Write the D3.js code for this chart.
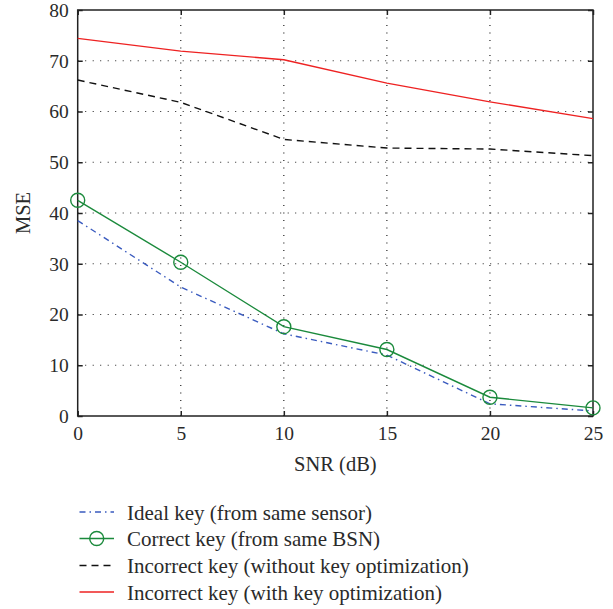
<!DOCTYPE html>
<html>
<head>
<meta charset="utf-8">
<script src="https://cdn.jsdelivr.net/npm/d3@7"></script>
<style>
  body { margin: 0; background: #fff; }
</style>
</head>
<body>
<svg id="chart" width="613" height="609"></svg>
<script>
const snr = [0, 5, 10, 15, 20, 25];
const idealKey = [38.5, 25.4, 16.2, 12.0, 2.4, 1.0];
const correctKey = [42.5, 30.3, 17.6, 13.1, 3.7, 1.6];
const incorrectNoOpt = [66.2, 61.8, 54.5, 52.8, 52.6, 51.3];
const incorrectOpt = [74.4, 71.9, 70.2, 65.6, 61.9, 58.6];
const xTicks = [0, 5, 10, 15, 20, 25];
const yTicks = [0, 10, 20, 30, 40, 50, 60, 70, 80];

const series = [
  { name: "Ideal key (from same sensor)", values: idealKey, color: "#3a5bbf", dash: "6,4,1.5,4", marker: false },
  { name: "Correct key (from same BSN)", values: correctKey, color: "#1b8a3c", dash: null, marker: true },
  { name: "Incorrect key (without key optimization)", values: incorrectNoOpt, color: "#111", dash: "7,5", marker: false },
  { name: "Incorrect key (with key optimization)", values: incorrectOpt, color: "#ee2222", dash: null, marker: false }
];

const FONT = "Liberation Serif, Times New Roman, serif";
const svg = d3.select("#chart").attr("font-family", FONT);
const mLeft = 77.7, mRight = 593, mTop = 10, mBottom = 416;

const x = d3.scaleLinear().domain([0, 25]).range([mLeft, mRight]);
const y = d3.scaleLinear().domain([0, 80]).range([mBottom, mTop]);

// grid
const grid = svg.append("g").attr("stroke", "#222").attr("stroke-width", 1.2).attr("stroke-dasharray", "1,6.5");
grid.selectAll(".gx").data(xTicks.slice(1, -1)).enter().append("line")
  .attr("x1", d => x(d)).attr("x2", d => x(d)).attr("y1", mBottom).attr("y2", mTop);
grid.selectAll(".gy").data(yTicks.slice(1, -1)).enter().append("line")
  .attr("y1", d => y(d)).attr("y2", d => y(d)).attr("x1", mLeft).attr("x2", mRight);

// axes
const tickLen = 5;
function clean(g) {
  g.attr("font-family", FONT).attr("font-size", 19.5);
  g.select(".domain").remove();
}
svg.append("g").attr("transform", `translate(0,${mBottom})`)
  .call(d3.axisBottom(x).tickValues(xTicks).tickSize(-tickLen).tickPadding(10))
  .call(clean);
svg.append("g").attr("transform", `translate(0,${mTop})`)
  .call(d3.axisTop(x).tickValues(xTicks).tickSize(-tickLen).tickFormat(""))
  .call(clean);
svg.append("g").attr("transform", `translate(${mLeft},0)`)
  .call(d3.axisLeft(y).tickValues(yTicks).tickSize(-tickLen).tickPadding(9))
  .call(clean);
svg.append("g").attr("transform", `translate(${mRight},0)`)
  .call(d3.axisRight(y).tickValues(yTicks).tickSize(-tickLen).tickFormat(""))
  .call(clean);

svg.selectAll(".tick line").attr("stroke", "#222").attr("stroke-width", 1.5);
svg.selectAll(".tick text").attr("fill", "#2a2a2a");

svg.append("rect").attr("x", mLeft).attr("y", mTop).attr("width", mRight - mLeft).attr("height", mBottom - mTop)
  .attr("fill", "none").attr("stroke", "#222").attr("stroke-width", 1.5);

// lines
const line = d3.line().x((d, i) => x(snr[i])).y(d => y(d));
series.forEach(s => {
  svg.append("path").datum(s.values)
    .attr("d", line).attr("fill", "none")
    .attr("stroke", s.color).attr("stroke-width", 1.4)
    .attr("stroke-dasharray", s.dash);
  if (s.marker) {
    svg.selectAll(null).data(s.values).enter().append("circle")
      .attr("cx", (d, i) => x(snr[i])).attr("cy", d => y(d)).attr("r", 7)
      .attr("fill", "none").attr("stroke", s.color).attr("stroke-width", 1.4);
  }
});

// axis labels
svg.append("text").attr("x", (mLeft + mRight) / 2).attr("y", 471).attr("text-anchor", "middle")
  .attr("font-size", 20.5).attr("fill", "#2a2a2a").text("SNR (dB)");
svg.append("text").attr("transform", `translate(30,${(mTop + mBottom) / 2}) rotate(-90)`)
  .attr("text-anchor", "middle").attr("font-size", 20.5).attr("fill", "#2a2a2a").text("MSE");

// legend
const legend = svg.append("g");
const rowY = [512, 538.5, 565.5, 592];
series.forEach((s, i) => {
  const g = legend.append("g").attr("transform", `translate(0,${rowY[i]})`);
  g.append("line").attr("x1", 79.5).attr("x2", 114).attr("y1", 0).attr("y2", 0)
    .attr("stroke", s.color).attr("stroke-width", 1.4).attr("stroke-dasharray", s.dash);
  if (s.marker) {
    g.append("circle").attr("cx", 96.7).attr("cy", 0).attr("r", 7)
      .attr("fill", "none").attr("stroke", s.color).attr("stroke-width", 1.4);
  }
  g.append("text").attr("x", 127).attr("y", 7.5).attr("font-size", 21).attr("fill", "#2a2a2a").text(s.name);
});
</script>
</body>
</html>
